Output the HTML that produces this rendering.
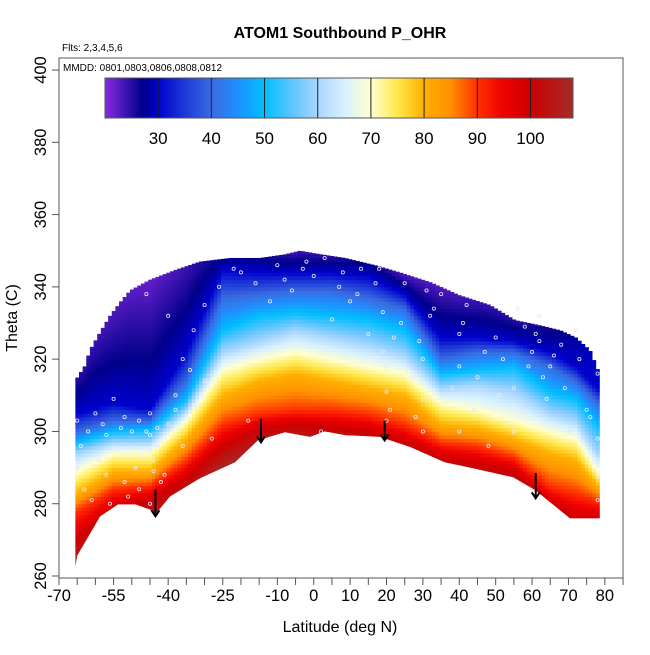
<!DOCTYPE html>
<html><head><meta charset="utf-8"><style>
body{margin:0;background:#fff;}
svg text{font-family:"Liberation Sans",sans-serif;}
</style></head><body>
<svg id="chart" width="650" height="650" xmlns="http://www.w3.org/2000/svg">
<defs><clipPath id="bottomClip"><polygon id="clipPoly" points=""/></clipPath>
<linearGradient id="cbGrad" x1="0" x2="1" y1="0" y2="0"></linearGradient></defs>
<rect width="650" height="650" fill="#fff"/>
<text x="340" y="38" text-anchor="middle" font-size="16" font-weight="bold">ATOM1 Southbound P_OHR</text>
<text x="62" y="51" font-size="10">Flts: 2,3,4,5,6</text>
<g id="heat" clip-path="url(#bottomClip)"></g>
<g id="pts"></g>
<g id="arrows"></g>
<rect x="59" y="58" width="564" height="520" fill="none" stroke="#555" stroke-width="1"/>
<text x="63" y="71" font-size="10">MMDD: 0801,0803,0806,0808,0812</text>
<g id="colorbar"></g>
<g id="xaxis"></g>
<g id="yaxis"></g>
<text x="340" y="632" text-anchor="middle" font-size="16">Latitude (deg N)</text>
<text transform="translate(17,318) rotate(-90)" text-anchor="middle" font-size="16">Theta (C)</text>
</svg>
<script>
// ---- data ----
const colLat = [-65,-55,-45,-35,-25,-15,-5,5,15,25,35,45,55,65,72,78];
const th100 = [270,279,281,287,296,301,302,301,300,297,293,291,289,280,276,276];
const th90  = [278,284,285,292,302,305,306,306,305,302,297,296,293,285,283,281];
const th80  = [283,289,289,298,310,314,316,314,312,310,302,301,298,294,292,285];
const th70  = [289,294,294,303,317,320,322,320,318,316,308,306,303,300,298,289];
const th60  = [294,297,297,306,322,325,328,326,324,321,312,313,311,305,303,294];
const th50  = [297,300,300.5,309,328,332,333,332,331,328,316,317,318,311,309,302];
const th40  = [300,303,303,314,337,338,339,339,337,334,320,322,322,318,314,308];
const th30  = [305,308,306,322,345,344,344,344,343,338,326,326,325,322,318,312];
const topVal = [25,23,22,24,27,27,24,25,27,23,23,24,25,26,28,30];
const topLat = [-65.6,-63,-61.5,-59,-56,-53,-50.5,-45,-38,-31.3,-23,-14.8,-8,-3.8,2,8.6,16.8,23.7,32,40,48.4,55.3,62,67.7,72,75.9,78.5];
const topTh  = [314,318,322.5,327,332,336,339,342,344.7,347,348,348,349,350,349,348,346,344,341.3,337.7,335,330.8,329.4,328,326,322.5,316];
const botLat = [-65.6,-65,-58.7,-53.8,-49,-45,-43.6,-39.5,-31.3,-21.6,-15.3,-7.9,-1,3,8.6,18.2,26.5,36,43,54.8,60.8,70.4,78.7];
const botTh  = [262,265.6,276.5,279.8,279.8,278.4,277,282,287,291.5,297.6,299.8,298.5,300,299,298.5,295.7,291.5,290,287.3,283.8,276,276];
const arrowLat = [-43.5,-14.5,19.5,61];
const arrowTop = [284,303.5,303,288.5];
const arrowTip = [276.5,297,297.5,281.5];
const ptLat = [-65,-64,-62,-60,-58,-57,-55,-53,-52,-50,-48,-47,-46,-45,-45,-45,-44,-43,-42,-40,-38,-36,-34,-30,-28,-22,-18,-12,-8,-5,-2,2,5,8,12,15,18,19,20,20,20,22,25,28,30,30,30,32,35,38,40,40,40,42,45,48,50,52,55,55,55,58,60,62,62,63,65,68,70,72,75,78,78,78,78,
 -65,-63,-61,-59,-57,-56,-54,-52,-51,-49,-48,-46,-45,-44,-43,-41,-40,-38,-36,-33,-30,-26,-20,-16,-10,-6,-3,0,3,7,10,13,17,19,19,21,24,27,29,31,33,37,41,44,47,51,53,56,59,61,64,66,69,73,76,78];
const ptTh  = [303,296,300,305,302,299,309,301,304,300,303,293,338,305,299,295,292,301,286,332,306,296,317,314,298,345,303,336,342,324,347,300,331,344,338,327,345,333,318,311,303,326,341,304,320,309,300,332,338,312,327,318,300,335,315,296,326,320,312,307,300,329,322,332,325,315,318,324,300,328,306,316,298,288,281,
 290,284,281,292,288,280,295,286,282,290,284,300,280,289,296,288,302,310,320,328,335,340,344,341,346,339,345,343,348,340,336,345,341,322,298,306,330,315,325,339,334,310,330,306,322,310,302,334,318,327,309,321,312,320,304,292];
const cbTicks = [30,40,50,60,70,80,90,100];
const xTicks = [-70,-65,-60,-55,-50,-45,-40,-35,-30,-25,-20,-15,-10,-5,0,5,10,15,20,25,30,35,40,45,50,55,60,65,70,75,80,85];
const xLabels = [-70,-55,-40,-25,-10,0,10,20,30,40,50,60,70,80];
const yTicks = [260,280,300,320,340,360,380,400];
const cmapV = [20,27,30,35,40,45,50,55,60,65,70,75,80,85,90,95,100,108];
const cmapC = ['#8a2be2','#00008b','#0000cd','#1c3ad8','#3a6ae0','#1e90ff','#00bfff','#5cc4ff','#a8d6ff','#d8f0ff','#ffffd0','#ffe84a','#ffb000','#ff9000','#ff3000','#ee0000','#cd0000','#a52a2a'];
// ---- scales ----
const X = lat => 59 + (lat + 70) * 3.639;
const Y = th => 576 - (th - 260) * 3.614;
const NS = 'http://www.w3.org/2000/svg';
function mk(tag, attrs, parent){const e=document.createElementNS(NS,tag);for(const k in attrs)e.setAttribute(k,attrs[k]);parent.appendChild(e);return e;}
function interp(xs, ys, x){if(x<=xs[0])return ys[0];for(let i=1;i<xs.length;i++){if(x<=xs[i]){const t=(x-xs[i-1])/(xs[i]-xs[i-1]);return ys[i-1]+t*(ys[i]-ys[i-1]);}}return ys[ys.length-1];}
function hex(c){return [parseInt(c.substr(1,2),16),parseInt(c.substr(3,2),16),parseInt(c.substr(5,2),16)];}
function color(v){v=Math.max(cmapV[0],Math.min(cmapV[cmapV.length-1],v));for(let i=1;i<cmapV.length;i++){if(v<=cmapV[i]){const t=(v-cmapV[i-1])/(cmapV[i]-cmapV[i-1]);const a=hex(cmapC[i-1]),b=hex(cmapC[i]);return 'rgb('+a.map((q,j)=>Math.round(q+t*(b[j]-q))).join(',')+')';}}return cmapC[cmapC.length-1];}
// ---- heatmap ----
const heat=document.getElementById('heat');
const levelArrs=[th100,th90,th80,th70,th60,th50,th40,th30];
const levelVals=[100,90,80,70,60,50,40,30];
for(let lat=-65;lat<=78.5;lat+=1){
  const top=interp(topLat,topTh,lat), bot=interp(botLat,botTh,lat);
  const ths=levelArrs.map(a=>interp(colLat,a,lat));
  const tv=interp(colLat,topVal,lat);
  const kx=[],kv=[];
  for(let i=0;i<ths.length;i++){ if(kx.length && ths[i]<=kx[kx.length-1]) continue; kx.push(ths[i]);kv.push(levelVals[i]);}
  if(top>kx[kx.length-1]){kx.push(top);kv.push(tv);}
  for(let th=Math.floor(bot)-2; th<top; th+=1){
    const tc=th+0.5;
    let v;
    if(tc<kx[0]) v=Math.min(107,100+(kx[0]-tc)*1.2); else v=interp(kx,kv,tc);
    const r=mk('rect',{x:X(lat-0.5).toFixed(2),y:Y(Math.min(th+1,top)).toFixed(2),width:(3.639+0.4).toFixed(2),height:(Y(th)-Y(Math.min(th+1,top))+0.4).toFixed(2),fill:color(v)},heat);
    
    
  }
}
let poly=[];
for(let i=0;i<botLat.length;i++)poly.push(X(botLat[i]).toFixed(1)+','+Y(botTh[i]).toFixed(1));
poly.push(X(80)+','+Y(400));poly.push(X(-66)+','+Y(400));
document.getElementById('clipPoly').setAttribute('points',poly.join(' '));
// ---- points ----
const pts=document.getElementById('pts');
for(let i=0;i<ptLat.length;i++){
  const c=mk('circle',{cx:X(ptLat[i]),cy:Y(ptTh[i]),r:1.6,fill:'none',stroke:'#e8e8ff','stroke-width':0.8},pts);
  
  
}
// ---- arrows ----
const ar=document.getElementById('arrows');
for(let i=0;i<arrowLat.length;i++){
  const x=X(arrowLat[i]),y1=Y(arrowTop[i]),y2=Y(arrowTip[i]);
  const g=mk('g',{},ar);
  
  
  mk('line',{x1:x,y1:y1,x2:x,y2:y2,stroke:'#000','stroke-width':2},g);
  mk('polyline',{points:(x-4)+','+(y2-6)+' '+x+','+y2+' '+(x+4)+','+(y2-6),fill:'none',stroke:'#000','stroke-width':2},g);
}
// ---- colorbar ----
const cb=document.getElementById('colorbar');
const cbX=v=>105+(v-20)*(468/88);
const grad=document.getElementById('cbGrad');
cmapV.forEach((v,i)=>mk('stop',{offset:((v-20)/88).toFixed(4),'stop-color':cmapC[i]},grad));
const bar=mk('rect',{x:105,y:78,width:468,height:40,fill:'url(#cbGrad)',stroke:'#555','stroke-width':1},cb);


cbTicks.forEach(v=>{
  mk('line',{x1:cbX(v),x2:cbX(v),y1:78,y2:118,stroke:'#222','stroke-width':1},cb);
  const t=mk('text',{x:cbX(v),y:144,'text-anchor':'middle','font-size':17},cb);t.textContent=v;
  
  
});
// ---- axes ----
const xa=document.getElementById('xaxis');
xTicks.forEach(v=>mk('line',{x1:X(v),x2:X(v),y1:578,y2:585,stroke:'#555','stroke-width':1},xa));
xLabels.forEach(v=>{const t=mk('text',{x:X(v),y:601,'text-anchor':'middle','font-size':16.5},xa);t.textContent=v;
  
  });
const ya=document.getElementById('yaxis');
yTicks.forEach(v=>{mk('line',{x1:52,x2:59,y1:Y(v),y2:Y(v),stroke:'#555','stroke-width':1},ya);
  const t=mk('text',{transform:'translate(46,'+Y(v)+') rotate(-90)','text-anchor':'middle','font-size':16.5},ya);t.textContent=v;
  
  });
</script>
</body></html>
